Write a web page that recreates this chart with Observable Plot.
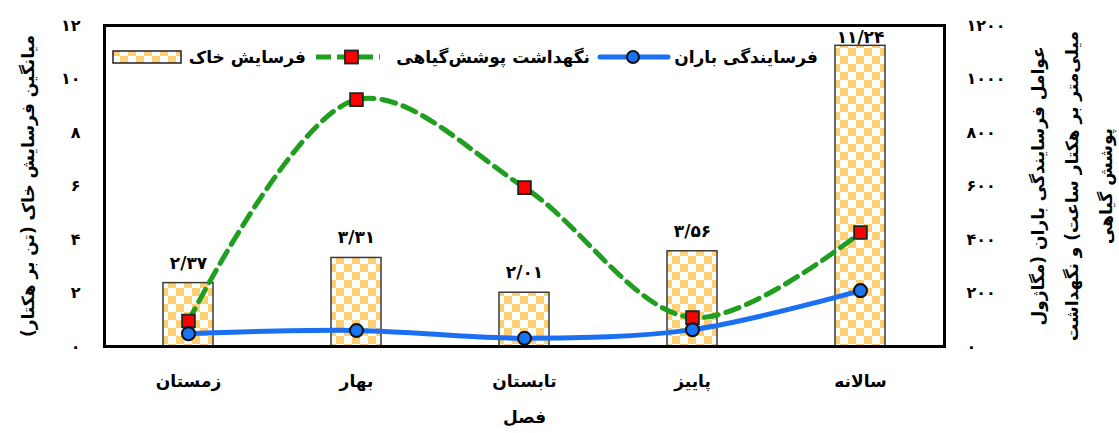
<!DOCTYPE html>
<html><head><meta charset="utf-8">
<script src="https://cdn.jsdelivr.net/npm/d3@7"></script>
<script src="https://cdn.jsdelivr.net/npm/@observablehq/plot@0.6"></script>
<style>body{margin:0;background:#fff;}</style>
</head><body><div id="chart"></div>
<script>
const seasons = ["زمستان","بهار","تابستان","پاییز","سالانه"];
const soilErosion = [2.37, 3.31, 2.01, 3.56, 11.24];
const soilErosionLabels = ["۲/۳۷","۳/۳۱","۲/۰۱","۳/۵۶","۱۱/۲۴"];
const rainErosivity = [48, 60, 31, 63, 209];
const vegRetention = [95, 923, 594, 108, 426];
const leftTicks = [0, 2, 4, 6, 8, 10, 12];
const leftTickLabels = ["۰","۲","۴","۶","۸","۱۰","۱۲"];
const rightTicks = [0, 200, 400, 600, 800, 1000, 1200];
const rightTickLabels = ["۰","۲۰۰","۴۰۰","۶۰۰","۸۰۰","۱۰۰۰","۱۲۰۰"];
const seriesNames = ["فرسایش خاک","نگهداشت پوشش‌گیاهی","فرسایندگی باران"];
const leftTitle = "میانگین فرسایش خاک (تن بر هکتار)";
const rightTitleLines = ["عوامل فرسایندگی باران (مگاژول","میلی‌متر بر هکتار ساعت) و نگهداشت","پوشش گیاهی"];
const xTitle = "فصل";

const ratio = 100; // right axis units per left axis unit
const data = seasons.map((s, i) => ({season: s, erosion: soilErosion[i], label: soilErosionLabels[i], rain: rainErosivity[i], veg: vegRetention[i]}));
const rtl = s => "\u200F" + s + "\u200F";
const font = "DejaVu Sans";

const plot = Plot.plot({
  width: 1119, height: 433,
  marginLeft: 104, marginRight: 175, marginTop: 25, marginBottom: 87,
  style: {fontFamily: font, fontSize: "16px", fontWeight: "bold", color: "#000", background: "#fff", overflow: "visible"},
  x: {domain: seasons, paddingInner: 0.7, paddingOuter: 0.35},
  y: {domain: [0, 12]},
  marks: [
    Plot.barY(data, {x: "season", y: "erosion", fill: "url(#checker)", stroke: "#3a3a3a", strokeWidth: 1.5}),
    Plot.line(data, {x: "season", y: d => d.veg / ratio, stroke: "#1f9e1f", strokeWidth: 5, strokeDasharray: "14,8", curve: "catmull-rom"}),
    Plot.dot(data, {x: "season", y: d => d.veg / ratio, symbol: "square", r: 7.2, fill: "#ff0000", stroke: "#222", strokeWidth: 1.8}),
    Plot.line(data, {x: "season", y: d => d.rain / ratio, stroke: "#1a6ff2", strokeWidth: 5, curve: "catmull-rom"}),
    Plot.dot(data, {x: "season", y: d => d.rain / ratio, r: 6.5, fill: "#1a73f0", stroke: "#111", strokeWidth: 2}),
    Plot.text(data.filter(d => d.erosion < 10), {x: "season", y: "erosion", text: "label", dy: -20, fontSize: 17}),
    Plot.text(data.filter(d => d.erosion >= 10), {x: "season", y: "erosion", text: "label", dy: -8, fontSize: 17}),
    Plot.axisY({ticks: leftTicks, tickFormat: d => leftTickLabels[leftTicks.indexOf(d)], tickSize: 0, tickPadding: 24, label: null}),
    Plot.axisY({anchor: "right", ticks: rightTicks.map(v => v / ratio), tickFormat: d => rightTickLabels[rightTicks.indexOf(Math.round(d * ratio))], tickSize: 0, tickPadding: 22, label: null}),
    Plot.axisX({tickSize: 0, tickPadding: 28, label: null, fontSize: 17}),
    Plot.frame({stroke: "#000", strokeWidth: 3}),
    Plot.text([leftTitle], {frameAnchor: "left", dx: -76, rotate: -90, text: d => rtl(d), textAnchor: "middle", fontSize: 17}),
    ...rightTitleLines.map((t, i) => Plot.text([t], {frameAnchor: "right", dx: 94 + i * 34, rotate: -90, text: d => rtl(d), textAnchor: "middle", fontSize: 17})),
    Plot.text([xTitle], {frameAnchor: "bottom", dy: 76, text: d => d, fontSize: 17})
  ]
});

const svg = d3.select(plot);
const defs = svg.insert("defs", ":first-child");
const pat = defs.append("pattern").attr("id", "checker").attr("patternUnits", "userSpaceOnUse").attr("width", 16).attr("height", 16);
pat.append("rect").attr("width", 16).attr("height", 16).attr("fill", "#fff");
pat.append("rect").attr("width", 8).attr("height", 8).attr("fill", "#ffcf73");
pat.append("rect").attr("x", 8).attr("y", 8).attr("width", 8).attr("height", 8).attr("fill", "#ffcf73");

// legend
const lg = svg.append("g").attr("font-family", font).attr("font-weight", "bold").attr("font-size", 17);
const ly = 57;
lg.append("rect").attr("x", 113).attr("y", 51).attr("width", 68).attr("height", 12).attr("fill", "url(#checker)").attr("stroke", "#222").attr("stroke-width", 1.5);
lg.append("text").attr("x", 306).attr("y", ly).attr("dy", "0.35em").attr("text-anchor", "end").text(seriesNames[0]);
lg.append("line").attr("x1", 316).attr("x2", 380).attr("y1", ly).attr("y2", ly).attr("stroke", "#1f9e1f").attr("stroke-width", 5).attr("stroke-dasharray", "15,6");
lg.append("rect").attr("x", 345).attr("y", ly - 6.5).attr("width", 13).attr("height", 13).attr("fill", "#ff0000").attr("stroke", "#222").attr("stroke-width", 1.8);
lg.append("text").attr("x", 590).attr("y", ly).attr("dy", "0.35em").attr("text-anchor", "end").text(seriesNames[1]);
lg.append("line").attr("x1", 600).attr("x2", 668).attr("y1", ly).attr("y2", ly).attr("stroke", "#1a6ff2").attr("stroke-width", 5).attr("stroke-linecap", "round");
lg.append("circle").attr("cx", 633).attr("cy", ly).attr("r", 6).attr("fill", "#1a73f0").attr("stroke", "#111").attr("stroke-width", 2);
lg.append("text").attr("x", 818).attr("y", ly).attr("dy", "0.35em").attr("text-anchor", "end").text(seriesNames[2]);

document.getElementById("chart").appendChild(plot);
</script>
</body></html>
